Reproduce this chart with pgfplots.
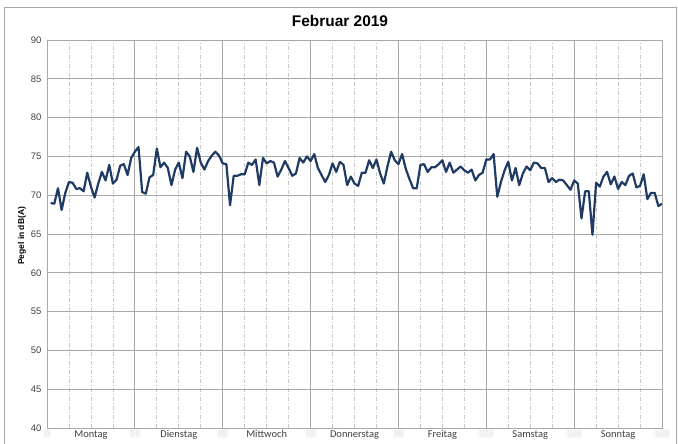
\documentclass[border=0pt]{standalone}
\usepackage{fontspec}
\setmainfont{Liberation Sans}
\newfontfamily\calib{Carlito}
\usepackage{pgfplots}
\pgfplotsset{compat=1.18}
\definecolor{linecol}{HTML}{1F3B63}
\definecolor{gridmaj}{HTML}{A8A8A8}
\definecolor{gridmin}{HTML}{C8C8C8}
\definecolor{txt}{HTML}{404040}
\begin{document}
\begin{tikzpicture}[x=1bp,y=1bp]
\path[use as bounding box] (0,0) rectangle (678,444);
\draw[gray!70, line width=0.8bp] (4,-2) rectangle (676.5,437);
\node[font=\fontsize{15.5}{17}\selectfont\bfseries, text=black] at (340,423) {Februar 2019};
\node[font=\fontsize{8.5}{10}\selectfont\bfseries, rotate=90, text=black] at (22,208) {Pegel in dB(A)};
\begin{axis}[
  at={(47bp,16bp)}, anchor=south west,
  width=615bp, height=388bp, scale only axis,
  xmin=0, xmax=168, ymin=40, ymax=90,
  ytick={40,45,...,90},
  xtick={0,24,...,168},
  xticklabels={0,24,48,72,96,120,144,168},
  x tick label style={text=black!10, fill=black!3, inner sep=1.5bp, font=\fontsize{8}{9}\selectfont},
  minor xtick={6,12,18,30,36,42,54,60,66,78,84,90,102,108,114,126,132,138,150,156,162},
  extra x ticks={12,36,60,84,108,132,156},
  extra x tick labels={\textcolor{txt}{Montag},\textcolor{txt}{Dienstag},\textcolor{txt}{Mittwoch},\textcolor{txt}{Donnerstag},\textcolor{txt}{Freitag},\textcolor{txt}{Samstag},\textcolor{txt}{Sonntag}},
  extra x tick style={grid=none, major tick length=0pt,
     xticklabel style={fill=none, font=\calib\fontsize{10.5}{11}\selectfont}},
  grid=both,
  major grid style={gridmaj, line width=0.9bp},
  minor grid style={gridmin, line width=0.7bp, dash pattern=on 4bp off 2bp on 1bp off 2bp},
  axis line style={gridmaj, line width=0.9bp},
  major tick length=0pt, minor tick length=0pt,
  y tick label style={text=txt, font=\fontsize{9.5}{11}\selectfont},
  /pgf/number format/assume math mode=true,
  xticklabel shift=1bp, yticklabel shift=2bp,
]
\addplot[linecol, line width=2.2bp, line join=round, mark=none] table {
x y
1 69.0
2 68.9
3 70.9
4 68.1
5 70.3
6 71.7
7 71.6
8 70.8
9 70.9
10 70.5
11 72.9
12 71.1
13 69.7
14 71.5
15 73.0
16 71.9
17 73.9
18 71.5
19 72.0
20 73.8
21 74.0
22 72.6
23 74.8
24 75.6
25 76.2
26 70.4
27 70.2
28 72.3
29 72.6
30 76.0
31 73.6
32 74.2
33 73.5
34 71.3
35 73.3
36 74.2
37 72.2
38 75.6
39 75.0
40 73.0
41 76.1
42 74.2
43 73.3
44 74.4
45 75.1
46 75.6
47 75.1
48 74.1
49 74.0
50 68.7
51 72.5
52 72.5
53 72.7
54 72.7
55 74.2
56 73.9
57 74.6
58 71.3
59 74.8
60 74.1
61 74.4
62 74.2
63 72.4
64 73.3
65 74.4
66 73.5
67 72.5
68 72.8
69 74.8
70 74.2
71 75.0
72 74.4
73 75.3
74 73.5
75 72.6
76 71.7
77 72.6
78 74.1
79 73.0
80 74.3
81 73.9
82 71.3
83 72.4
84 71.5
85 71.2
86 72.9
87 72.9
88 74.5
89 73.5
90 74.6
91 72.8
92 71.5
93 73.7
94 75.6
95 74.5
96 74.0
97 75.3
98 73.4
99 72.1
100 70.9
101 70.9
102 73.9
103 74.0
104 73.0
105 73.6
106 73.6
107 74.0
108 74.5
109 73.0
110 74.2
111 72.9
112 73.3
113 73.7
114 73.2
115 72.9
116 73.3
117 71.9
118 72.6
119 72.9
120 74.6
121 74.6
122 75.3
123 69.8
124 71.7
125 73.2
126 74.3
127 71.9
128 73.5
129 71.3
130 72.8
131 73.7
132 73.2
133 74.2
134 74.1
135 73.5
136 73.5
137 71.7
138 72.2
139 71.7
140 72.0
141 71.9
142 71.3
143 70.7
144 71.9
145 71.5
146 67.0
147 70.5
148 70.5
149 64.9
150 71.6
151 71.1
152 72.4
153 73.0
154 71.4
155 72.4
156 70.8
157 71.7
158 71.3
159 72.5
160 72.8
161 71.0
162 71.2
163 72.7
164 69.5
165 70.3
166 70.3
167 68.6
168 68.9
};
\end{axis}
\end{tikzpicture}
\end{document}
